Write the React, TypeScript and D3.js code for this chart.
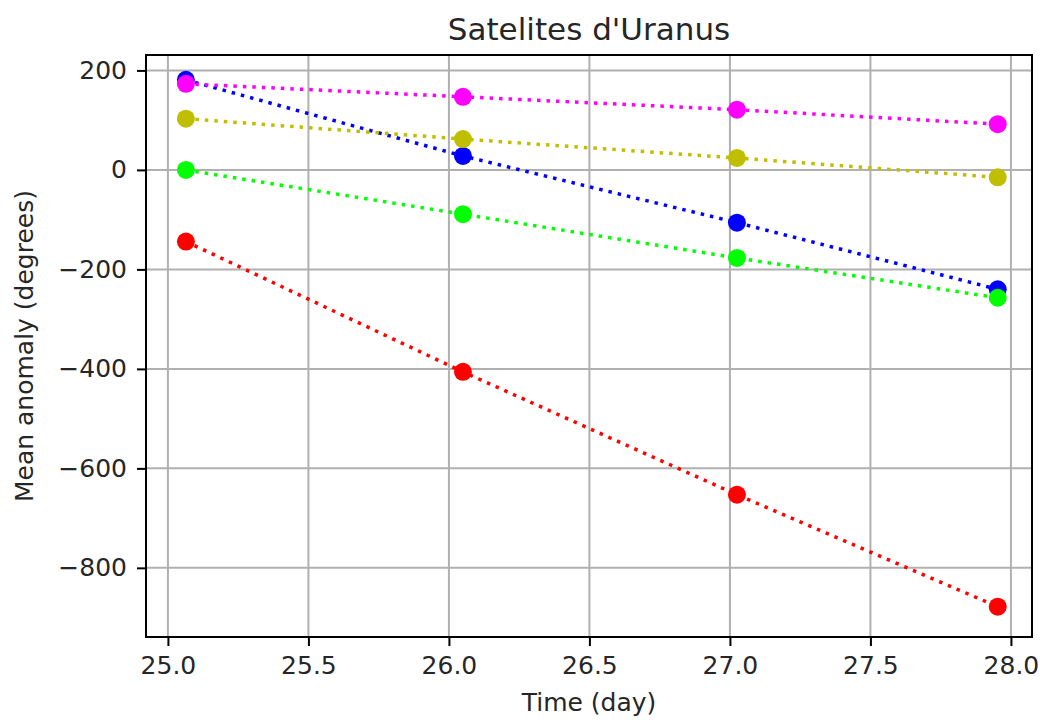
import React, { useEffect, useRef } from 'react';
import * as d3 from 'd3';

// observation times (day)
const days = [25.064, 26.05, 27.025, 27.953];

// mean anomaly per satellite (degrees), in drawing order
const blueVals = [181, 28, -106, -240];
const greenVals = [0, -89, -177, -257];
const redVals = [-144, -406, -653, -878];
const yellowVals = [103, 62, 24, -15];
const magentaVals = [173, 147, 121, 92];

const seriesColors = ['#0000ff', '#00ff00', '#ff0000', '#bfbf00', '#ff00ff'];
const seriesVals = [blueVals, greenVals, redVals, yellowVals, magentaVals];

const xTicks = [25.0, 25.5, 26.0, 26.5, 27.0, 27.5, 28.0];
const yTicks = [-800, -600, -400, -200, 0, 200];

const width = 1040;
const height = 720;
const left = 146;
const right = 1032;
const top = 55;
const bottom = 637;
const font = 'DejaVu Sans, sans-serif';

export default function App() {
  const ref = useRef<SVGSVGElement>(null);

  useEffect(() => {
    const svg = d3.select(ref.current);
    svg.selectAll('*').remove();

    const x = d3.scaleLinear().domain([24.922, 28.075]).range([left, right]);
    const y = d3.scaleLinear().domain([-939, 231]).range([bottom, top]);

    // grid
    const grid = svg.append('g');
    grid
      .selectAll('line.gx')
      .data(xTicks)
      .enter()
      .append('line')
      .attr('x1', (d) => x(d))
      .attr('x2', (d) => x(d))
      .attr('y1', top)
      .attr('y2', bottom)
      .attr('stroke', '#b0b0b0')
      .attr('stroke-width', 2);
    grid
      .selectAll('line.gy')
      .data(yTicks)
      .enter()
      .append('line')
      .attr('x1', left)
      .attr('x2', right)
      .attr('y1', (d) => y(d))
      .attr('y2', (d) => y(d))
      .attr('stroke', '#b0b0b0')
      .attr('stroke-width', 2);

    // series
    const line = d3
      .line<number>()
      .x((d, i) => x(days[i]))
      .y((d) => y(d));

    seriesVals.forEach((vals, k) => {
      const g = svg.append('g');
      g.append('path')
        .attr('d', line(vals))
        .attr('fill', 'none')
        .attr('stroke', seriesColors[k])
        .attr('stroke-width', 3.5)
        .attr('stroke-dasharray', '3.5 6');
      g.selectAll('circle')
        .data(vals)
        .enter()
        .append('circle')
        .attr('cx', (d, i) => x(days[i]))
        .attr('cy', (d) => y(d))
        .attr('r', 9)
        .attr('fill', seriesColors[k]);
    });

    // frame
    svg
      .append('rect')
      .attr('x', left)
      .attr('y', top)
      .attr('width', right - left)
      .attr('height', bottom - top)
      .attr('fill', 'none')
      .attr('stroke', '#000')
      .attr('stroke-width', 2);

    const xAxis = d3
      .axisBottom(x)
      .tickValues(xTicks)
      .tickFormat(d3.format('.1f'))
      .tickSizeInner(9)
      .tickSizeOuter(0)
      .tickPadding(10);
    const gx = svg
      .append('g')
      .attr('transform', 'translate(0,' + bottom + ')')
      .call(xAxis);

    const yAxis = d3
      .axisLeft(y)
      .tickValues(yTicks)
      .tickFormat(d3.format('d'))
      .tickSizeInner(9)
      .tickSizeOuter(0)
      .tickPadding(10);
    const gy = svg
      .append('g')
      .attr('transform', 'translate(' + left + ',0)')
      .call(yAxis);

    [gx, gy].forEach((g) => {
      g.select('.domain').remove();
      g.selectAll('line').attr('stroke', '#000').attr('stroke-width', 2);
      g.selectAll('text')
        .style('font-family', font)
        .style('font-size', '25px')
        .attr('fill', '#262626');
    });

    svg
      .append('text')
      .attr('x', (left + right) / 2)
      .attr('y', 40)
      .attr('text-anchor', 'middle')
      .style('font-family', font)
      .style('font-size', '31px')
      .attr('fill', '#262626')
      .text("Satelites d'Uranus");

    svg
      .append('text')
      .attr('x', (left + right) / 2)
      .attr('y', 711)
      .attr('text-anchor', 'middle')
      .style('font-family', font)
      .style('font-size', '25px')
      .attr('fill', '#262626')
      .text('Time (day)');

    svg
      .append('text')
      .attr('transform', 'translate(33,' + (top + bottom) / 2 + ') rotate(-90)')
      .attr('text-anchor', 'middle')
      .style('font-family', font)
      .style('font-size', '25px')
      .attr('fill', '#262626')
      .text('Mean anomaly (degrees)');
  }, []);

  return (
    <svg
      ref={ref}
      width={width}
      height={height}
      style={{ position: 'absolute', left: 0, top: 0, background: '#fff' }}
    />
  );
}
